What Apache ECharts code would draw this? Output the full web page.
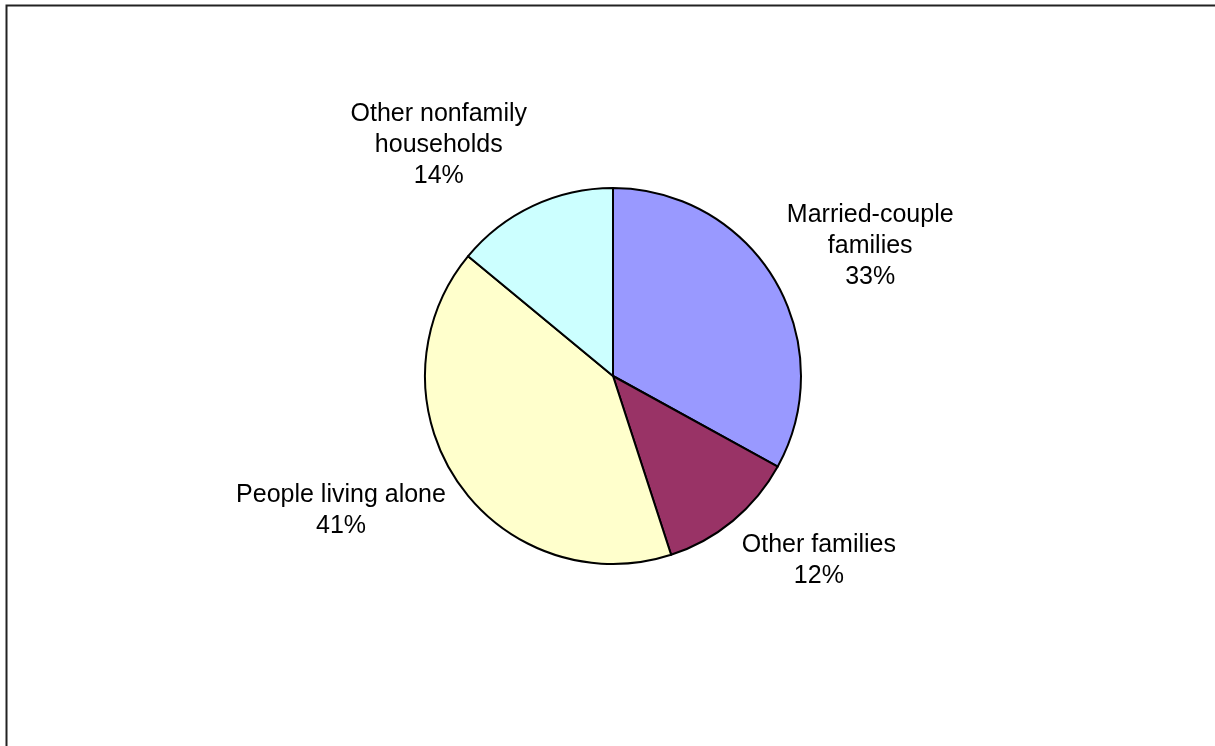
<!DOCTYPE html>
<html>
<head>
<meta charset="utf-8">
<script src="https://cdn.jsdelivr.net/npm/echarts@6/dist/echarts.min.js"></script>
<style>
html,body{margin:0;padding:0;background:#fff;}
#c{width:1215px;height:746px;}
</style>
</head>
<body>
<div id="c"></div>
<script>
const categories = ["Married-couple\nfamilies", "Other families", "People living alone", "Other nonfamily\nhouseholds"];
const values = [33, 12, 41, 14];
const colors = ["#9999FF", "#993366", "#FFFFCC", "#CCFFFF"];

const CX = 613, CY = 376, R = 188;
const total = values.reduce((a, b) => a + b, 0);
const RX = 202, RY = 209;

const chart = echarts.init(document.getElementById('c'), null, {renderer: 'canvas'});
chart.setOption({
  animation: false,
  backgroundColor: '#ffffff',
  graphic: [{
    type: 'rect',
    shape: {x: 6.5, y: 5.5, width: 1400, height: 1000},
    style: {fill: 'none', stroke: '#222', lineWidth: 2},
    silent: true
  }],
  series: [{
    type: 'pie',
    center: [CX, CY],
    radius: R,
    startAngle: 90,
    clockwise: true,
    data: categories.map((n, i) => ({name: n, value: values[i], itemStyle: {color: colors[i]}})),
    itemStyle: {borderColor: '#000', borderWidth: 2},
    label: {
      show: true,
      position: 'outside',
      formatter: p => p.name + '\n' + Math.round(p.percent) + '%',
      fontFamily: 'Liberation Sans, Arial, sans-serif',
      fontSize: 25,
      lineHeight: 31,
      color: '#000',
      align: 'center'
    },
    labelLine: {show: false},
    emphasis: {disabled: true},
    labelLayout: function (p) {
      const i = p.dataIndex;
      let cum = 0;
      for (let k = 0; k < i; k++) cum += values[k];
      const mid = (cum + values[i] / 2) / total * 2 * Math.PI;
      const dx = Math.sin(mid), dy = -Math.cos(mid);
      const w = p.labelRect.width, h = p.labelRect.height;
      return {
        x: CX + RX * dx + Math.sign(dx) * w / 2,
        y: CY + RY * dy + dy * h / 2,
        align: 'center',
        verticalAlign: 'middle'
      };
    }
  }]
});
</script>
</body>
</html>
